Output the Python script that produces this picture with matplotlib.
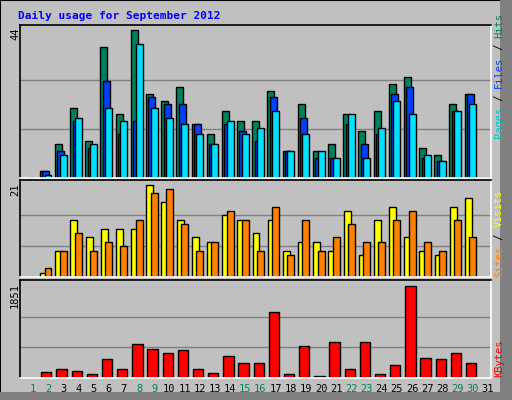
import matplotlib
matplotlib.use("Agg")
import matplotlib.pyplot as plt
from matplotlib.patches import Rectangle

days = list(range(1, 32))
hits   = [0,2,10,21,11,39,19,44,25,23,27,16,13,20,17,17,26,8,22,8,10,19,14,20,28,30,9,7,22,25,0]
files  = [0,2,8,17,9,29,13,17,24,22,22,16,10,16,14,11,24,8,18,6,6,16,10,13,25,27,6,5,20,25,0]
pages  = [0,1,7,18,10,21,17,40,21,18,16,13,10,17,13,15,20,8,13,8,6,19,6,15,23,19,7,5,20,22,0]
sites  = [0,1,6,13,9,11,11,11,21,17,13,9,8,14,13,10,13,6,8,8,6,15,5,13,16,9,6,5,16,18,0]
visits = [0,2,6,10,6,8,7,13,19,20,12,6,8,15,13,6,16,5,13,6,9,12,8,8,13,15,8,6,13,9,0]
kbytes = [0,128,188,148,88,390,188,693,592,511,572,188,108,451,310,310,1319,88,653,47,734,188,734,88,269,1851,410,390,511,310,0]
weekend = [1,2,8,9,15,16,22,23,29,30]

BG = "#C0C0C0"
W, H = 512, 400
fig = plt.figure(figsize=(W/100, H/100), dpi=100, facecolor=BG)
mono = "DejaVu Sans Mono"

# frame
fig.patches.append(Rectangle((0, 0), 1, 1, transform=fig.transFigure, fill=False, ec="black", lw=1.5))
fig.patches.append(Rectangle((500/W, 0), 12/W, 1, transform=fig.transFigure, fc="#808080", ec="none"))
fig.patches.append(Rectangle((0, 0), 1, 8/H, transform=fig.transFigure, fc="#808080", ec="none"))

def mkax(top, bot):
    ax = fig.add_axes([20/W, 1-bot/H, (490.7-20)/W, (bot-top)/H], facecolor=BG)
    ax.set_xlim(0.154, 31.18)
    ax.set_xticks([])
    ax.set_yticks([])
    for s in ("top", "left"):
        ax.spines[s].set_color("black")
    for s in ("right", "bottom"):
        ax.spines[s].set_color("white")
    for s in ax.spines.values():
        s.set_linewidth(1.2)
    return ax

def grid(ax, m):
    for f in (1/3, 2/3):
        ax.axhline(m*f, color="#808080", lw=1, zorder=0)

bw = 0.46
ax1 = mkax(25, 178)
m1 = max(hits)
ax1.set_ylim(0, m1*1.036)
grid(ax1, m1)
x = [d - 0.31 for d in days]
ax1.bar([d-0.31 for d in days], hits, width=bw, color="#00805C", ec="black", lw=1)
ax1.bar([d-0.15 for d in days], files, width=bw, color="#0040FF", ec="black", lw=1)
ax1.bar([d for d in days], pages, width=bw, color="#00E0FF", ec="black", lw=1)

ax2 = mkax(180, 277)
m2 = max(sites)
ax2.set_ylim(0, m2*1.05)
grid(ax2, m2)
ax2.bar([d-0.29 for d in days], sites, width=bw, color="#FFFF00", ec="black", lw=1)
ax2.bar([d for d in days], visits, width=bw, color="#FF8000", ec="black", lw=1)

ax3 = mkax(280, 378)
m3 = max(kbytes)
ax3.set_ylim(0, m3*1.065)
grid(ax3, m3)
ax3.bar([d-0.11 for d in days], kbytes, width=0.68, color="#FF0000", ec="black", lw=1)

for d in days:
    xp = 48 + (d-2)*15.17
    fig.text(xp/W, 1-389/H, str(d), ha="center", va="center", fontsize=7.5,
             family=mono, color="#008060" if d in weekend else "black")

fig.text(18/W, 1-16/H, "Daily usage for September 2012", fontsize=8, family=mono,
         weight="bold", color="#0000FF", ha="left", va="center")

for val, yt in ((m1, 27), (m2, 183), (m3, 283)):
    fig.text(15/W, 1-yt/H, str(val), rotation=90, ha="center", va="top",
             fontsize=7.5, family=mono)

fs = 7.5
cpx = 0.602*fs*100/72
def vlabel(parts, ybot):
    y = ybot
    for txt, col in parts:
        fig.text(499/W, 1-y/H, txt, rotation=90, ha="center", va="bottom",
                 fontsize=fs, family=mono, color=col)
        y -= len(txt)*cpx

vlabel([("Pages", "#00C0C0"), (" / ", "black"), ("Files", "#0040FF"),
        (" / ", "black"), ("Hits", "#008060")], 138)
vlabel([("Sites", "#FF8000"), (" / ", "black"), ("Visits", "#FFFF00")], 277)
vlabel([("KBytes", "#FF0000")], 377)

fig.savefig("out.png", dpi=100, facecolor=BG)
